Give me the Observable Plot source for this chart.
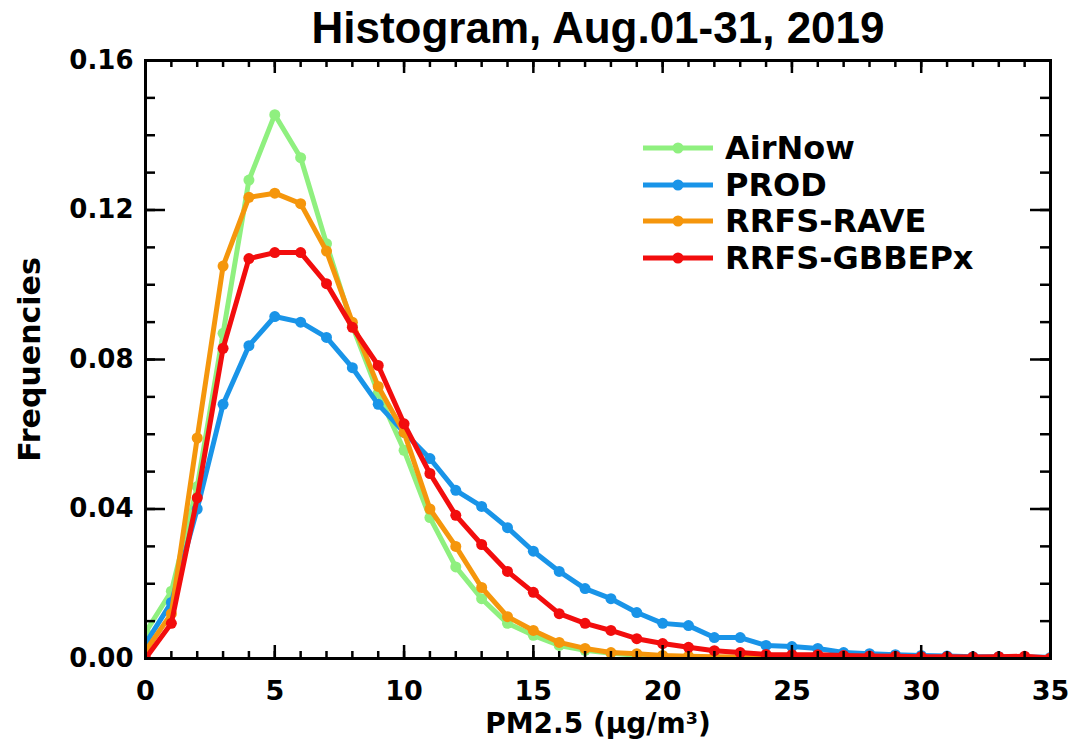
<!DOCTYPE html>
<html>
<head>
<meta charset="utf-8">
<script src="https://cdn.jsdelivr.net/npm/d3@7"></script>
<script src="https://cdn.jsdelivr.net/npm/@observablehq/plot@0.6"></script>
<style>
  html, body { margin: 0; padding: 0; background: #fff; }
  #wrap { position: relative; width: 1092px; height: 746px; font-family: "DejaVu Sans", sans-serif; font-weight: bold; }
  #legend { position: absolute; left: 643px; top: 130px; }
  .row { display: flex; align-items: center; height: 36.5px; }
  .row svg { margin-right: 12px; }
  .row span { font-size: 32px; line-height: 36px; color: #000; }
</style>
</head>
<body>
<div id="wrap"></div>
<script>
// ---- data ----
const bins = d3.range(0, 36); // PM2.5 bin centers (µg/m3)
const seriesNames = ["AirNow", "PROD", "RRFS-RAVE", "RRFS-GBBEPx"];
const seriesColors = ["#8ff07f", "#1994e8", "#f5960c", "#f20d0d"];
const airnow = [0.007, 0.018, 0.046, 0.087, 0.128, 0.1455, 0.134, 0.111, 0.089, 0.071,
  0.0557, 0.0377, 0.0245, 0.016, 0.0094, 0.0062, 0.0035, 0.0022, 0.0014, 0.0009,
  0.0006, 0.0004, 0.0003, 0.0003, 0.0002, 0.0002, 0.0001, 0.0001, 0.0001, 0.0001,
  0.0001, 0.0001, 0.0001, 0.0001, 0.0001, 0.0001];
const prod = [0.004, 0.015, 0.040, 0.068, 0.0837, 0.0915, 0.090, 0.0859, 0.0778, 0.068,
  0.0605, 0.0535, 0.045, 0.0407, 0.035, 0.0287, 0.0233, 0.0187, 0.016, 0.0123,
  0.0094, 0.0088, 0.0056, 0.0056, 0.0035, 0.0032, 0.0027, 0.0016, 0.0013, 0.0010,
  0.0008, 0.0007, 0.0005, 0.0005, 0.0004, 0.0003];
const rave = [0.002, 0.012, 0.059, 0.105, 0.1234, 0.1245, 0.1217, 0.109, 0.090, 0.0728,
  0.0605, 0.040, 0.030, 0.019, 0.0112, 0.0075, 0.0043, 0.0027, 0.0016, 0.0013,
  0.0008, 0.0006, 0.0005, 0.0004, 0.0004, 0.0003, 0.0003, 0.0002, 0.0002, 0.0002,
  0.0001, 0.0001, 0.0001, 0.0001, 0.0001, 0.0001];
const gbbepx = [0.000, 0.0094, 0.043, 0.083, 0.107, 0.1086, 0.1086, 0.1003, 0.0886, 0.0784,
  0.0628, 0.0495, 0.0383, 0.0305, 0.0233, 0.0177, 0.012, 0.0094, 0.0075, 0.0053,
  0.004, 0.003, 0.0021, 0.0016, 0.0011, 0.001, 0.001, 0.0008, 0.0007, 0.0006,
  0.0005, 0.0005, 0.0004, 0.0005, 0.0006, 0.0001];
const xMajor = [0, 5, 10, 15, 20, 25, 30, 35];
const xMinor = d3.range(0, 36);
const yMajor = [0, 0.04, 0.08, 0.12, 0.16];
const yMinor = d3.range(0, 17).map(i => i / 100);
const titleText = "Histogram, Aug.01-31, 2019";
const xLabel = "PM2.5 (\u00b5g/m\u00b3)";
const yLabel = "Frequencies";

// ---- build table ----
const allValues = [airnow, prod, rave, gbbepx];
const rows = seriesNames.flatMap((name, s) => bins.map((b, i) => ({series: name, x: b, y: allValues[s][i]})));

const W = 1092, H = 746;
const mL = 145, mR = 42, mT = 60, mB = 88;
const plotW = W - mL - mR, plotH = H - mT - mB;

const marks = [];
seriesNames.forEach((name, s) => {
  const d = rows.filter(r => r.series === name);
  marks.push(Plot.line(d, {x: "x", y: "y", stroke: seriesColors[s], strokeWidth: 5, clip: true}));
  marks.push(Plot.dot(d, {x: "x", y: "y", fill: seriesColors[s], r: 5.5, clip: true}));
});

const chart = Plot.plot({
  width: W, height: H,
  marginLeft: mL, marginRight: mR, marginTop: mT, marginBottom: mB,
  style: {fontFamily: "'DejaVu Sans', sans-serif", fontWeight: "bold", fontSize: "26px", color: "#000", background: "#fff"},
  x: {domain: [0, 35]},
  y: {domain: [0, 0.16]},
  marks: [
    ...marks,
    // inward ticks
    Plot.tickX(xMinor, {x: d => d, insetTop: plotH - 7, stroke: "#000", strokeWidth: 2.5}),
    Plot.tickX(xMajor, {x: d => d, insetTop: plotH - 13, stroke: "#000", strokeWidth: 2.5}),
    Plot.tickX(xMinor, {x: d => d, insetBottom: plotH - 7, stroke: "#000", strokeWidth: 2.5}),
    Plot.tickX(xMajor, {x: d => d, insetBottom: plotH - 13, stroke: "#000", strokeWidth: 2.5}),
    Plot.tickY(yMinor, {y: d => d, insetRight: plotW - 10, stroke: "#000", strokeWidth: 2.5}),
    Plot.tickY(yMajor, {y: d => d, insetRight: plotW - 20, stroke: "#000", strokeWidth: 2.5}),
    Plot.tickY(yMinor, {y: d => d, insetLeft: plotW - 10, stroke: "#000", strokeWidth: 2.5}),
    Plot.tickY(yMajor, {y: d => d, insetLeft: plotW - 20, stroke: "#000", strokeWidth: 2.5}),
    Plot.frame({stroke: "#000", strokeWidth: 3}),
    Plot.axisX({ticks: xMajor, tickSize: 0, tickPadding: 22, tickFormat: d => String(d), label: null, fontSize: 27}),
    Plot.axisY({ticks: yMajor, tickSize: 0, tickPadding: 12, tickFormat: d3.format(".2f"), label: null, fontSize: 26}),
    Plot.text([titleText], {text: d => d, frameAnchor: "top", lineAnchor: "middle", dy: -32, fontSize: 44,
      fontFamily: "'Liberation Sans', Arial, sans-serif", fill: "#000"}),
    Plot.text([xLabel], {text: d => d, frameAnchor: "bottom", lineAnchor: "middle", dy: 66, fontSize: 28, fill: "#000"}),
    Plot.text([yLabel], {text: d => d, frameAnchor: "left", textAnchor: "middle", lineAnchor: "middle", rotate: -90, dx: -115, fontSize: 30, fill: "#000"})
  ]
});

const wrap = document.getElementById("wrap");
wrap.appendChild(chart);

// legend
const legend = document.createElement("div");
legend.id = "legend";
seriesNames.forEach((name, s) => {
  const row = document.createElement("div");
  row.className = "row";
  row.innerHTML = `<svg width="70" height="14"><line x1="0" x2="70" y1="7" y2="7" stroke="${seriesColors[s]}" stroke-width="5"/><circle cx="35" cy="7" r="5.5" fill="${seriesColors[s]}"/></svg><span>${name}</span>`;
  legend.appendChild(row);
});
wrap.appendChild(legend);
</script>
</body>
</html>
